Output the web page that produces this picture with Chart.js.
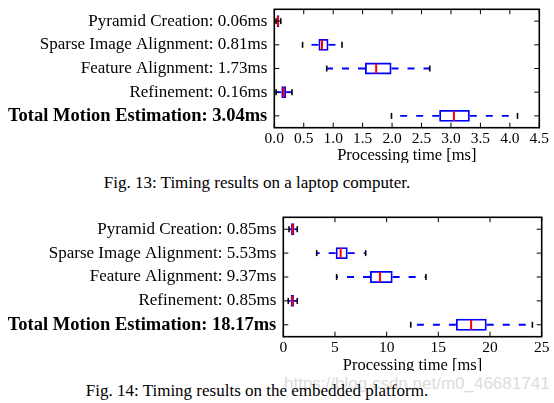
<!DOCTYPE html>
<html>
<head>
<meta charset="utf-8">
<script src="https://cdn.jsdelivr.net/npm/chart.js@4.4.0/dist/chart.umd.min.js"></script>
<style>
  html, body { margin: 0; padding: 0; background: #fff; }
  #page { position: relative; width: 554px; height: 403px; overflow: hidden; background: #fff; }
  .plot { position: absolute; left: 0; width: 554px; overflow: hidden; }
  .plot canvas { display: block; }
  .caption {
    position: absolute; left: 0; width: 514px; text-align: center;
    font-family: 'Liberation Serif', 'Times New Roman', serif; font-size: 17px; line-height: 19px;
    color: #000; white-space: nowrap;
  }
  #watermark {
    position: absolute; left: 284px; top: 374px;
    font-family: 'Liberation Sans', Arial, sans-serif; font-size: 17px; line-height: 20px;
    color: #dcdcdc; white-space: nowrap;
  }
</style>
</head>
<body>
<div id="page">
  <div class="plot" style="top:0;height:163px"><canvas id="chart-top" width="554" height="170"></canvas></div>
  <div class="caption" style="top:173px">Fig. 13: Timing results on a laptop computer.</div>
  <div class="plot" style="top:205px;height:166px"><canvas id="chart-bottom" width="554" height="175"></canvas></div>
  <div id="watermark">https://blog.csdn.net/m0_46681741</div>
  <div class="caption" style="top:381px">Fig. 14: Timing results on the embedded platform.</div>
</div>
<script>
// Fig. 13 - laptop (de cima para baixo)
const topLabels = [
  'Pyramid Creation: 0.06ms',
  'Sparse Image Alignment: 0.81ms',
  'Feature Alignment: 1.73ms',
  'Refinement: 0.16ms',
  'Total Motion Estimation: 3.04ms'
];
const topWhiskerLow  = [0.03, 0.48, 0.89, 0.03, 1.99];
const topQ1          = [0.045, 0.75, 1.54, 0.12, 2.80];
const topMedian      = [0.06, 0.81, 1.73, 0.16, 3.05];
const topQ3          = [0.085, 0.92, 1.99, 0.20, 3.32];
const topWhiskerHigh = [0.11, 1.15, 2.64, 0.30, 4.13];
const topTickLabels  = ['0.0', '0.5', '1.0', '1.5', '2.0', '2.5', '3.0', '3.5', '4.0', '4.5'];

// Fig. 14 - plataforma embarcada
const bottomLabels = [
  'Pyramid Creation: 0.85ms',
  'Sparse Image Alignment: 5.53ms',
  'Feature Alignment: 9.37ms',
  'Refinement: 0.85ms',
  'Total Motion Estimation: 18.17ms'
];
const bottomWhiskerLow  = [0.55, 3.23, 5.16, 0.48, 12.33];
const bottomQ1          = [0.75, 5.07, 8.39, 0.71, 16.70];
const bottomMedian      = [0.90, 5.55, 9.35, 0.87, 18.17];
const bottomQ3          = [1.07, 6.23, 10.58, 1.03, 19.68];
const bottomWhiskerHigh = [1.35, 7.97, 13.80, 1.35, 24.10];
const bottomTickLabels  = ['0', '5', '10', '15', '20', '25'];

const serif = "'Liberation Serif', 'Times New Roman', serif";
Chart.defaults.font.family = serif;
Chart.defaults.color = '#000';

// mediana, bigodes, caps, moldura e ticks para dentro
const boxplotExtras = {
  id: 'boxplotExtras',
  afterDatasetsDraw(chart, args, opts) {
    const { ctx, chartArea: area, scales: { x, y } } = chart;
    const meta = chart.getDatasetMeta(0);
    const line = (x1, y1, x2, y2) => {
      ctx.beginPath();
      ctx.moveTo(x1, y1);
      ctx.lineTo(x2, y2);
      ctx.stroke();
    };
    ctx.save();
    opts.median.forEach((m, i) => {
      const bar = meta.data[i];
      const yc = bar.y;
      const h = bar.height / 2;
      // bigodes tracejados
      ctx.strokeStyle = '#0000ff';
      ctx.lineWidth = 1.8;
      ctx.setLineDash([7, 9]);
      line(x.getPixelForValue(opts.q1[i]), yc, x.getPixelForValue(opts.low[i]), yc);
      line(x.getPixelForValue(opts.q3[i]), yc, x.getPixelForValue(opts.high[i]), yc);
      ctx.setLineDash([]);
      // caps
      ctx.strokeStyle = '#000';
      ctx.lineWidth = 1.6;
      const cl = x.getPixelForValue(opts.low[i]);
      const ch = x.getPixelForValue(opts.high[i]);
      line(cl, yc - h / 2, cl, yc + h / 2);
      line(ch, yc - h / 2, ch, yc + h / 2);
      // mediana
      ctx.strokeStyle = '#ff0000';
      ctx.lineWidth = 2;
      const mx = x.getPixelForValue(m);
      line(mx, yc - h + 0.9, mx, yc + h - 0.9);
    });
    // moldura
    ctx.strokeStyle = '#000';
    ctx.lineWidth = 1.6;
    ctx.strokeRect(area.left, area.top, area.width, area.height);
    // ticks internos
    ctx.lineWidth = 1;
    x.ticks.forEach((t, i) => {
      const px = x.getPixelForTick(i);
      line(px, area.bottom, px, area.bottom - 5);
      line(px, area.top, px, area.top + 5);
    });
    y.ticks.forEach((t, i) => {
      const py = y.getPixelForTick(i);
      line(area.left, py, area.left + 5, py);
      line(area.right, py, area.right - 5, py);
    });
    ctx.restore();
  }
};

function criarBoxplot(canvasId, cfg) {
  const ctx = document.getElementById(canvasId).getContext('2d');
  return new Chart(ctx, {
    type: 'bar',
    data: {
      labels: cfg.labels,
      datasets: [{
        data: cfg.q1.map((q, i) => [q, cfg.q3[i]]),
        backgroundColor: 'rgba(255,255,255,0)',
        borderColor: '#0000ff',
        borderWidth: 1.8,
        borderSkipped: false,
        categoryPercentage: 1,
        barPercentage: 0.5
      }]
    },
    options: {
      indexAxis: 'y',
      responsive: false,
      animation: false,
      layout: { padding: cfg.padding },
      plugins: {
        legend: { display: false },
        tooltip: { enabled: false },
        boxplotExtras: {
          low: cfg.low, q1: cfg.q1, median: cfg.median, q3: cfg.q3, high: cfg.high
        }
      },
      scales: {
        x: {
          type: 'linear',
          position: 'bottom',
          min: cfg.min,
          max: cfg.max,
          grid: { display: false, drawTicks: false },
          border: { display: false },
          ticks: {
            stepSize: cfg.step,
            autoSkip: false,
            maxRotation: 0,
            padding: cfg.tickPadding,
            font: { size: 15.5 },
            callback: (v, i) => cfg.tickLabels[i]
          },
          title: {
            display: true,
            text: 'Processing time [ms]',
            font: { size: 16.5 },
            padding: { top: 0, bottom: cfg.titlePadding }
          },
          afterFit: (scale) => {
            scale.height = cfg.xHeight;
            scale.paddingLeft = 0;
            scale.paddingRight = 0;
          }
        },
        y: {
          type: 'category',
          offset: true,
          grid: { display: false, drawTicks: false },
          border: { display: false },
          ticks: {
            padding: 7,
            autoSkip: false,
            font: (c) => (c.index === 4
              ? { size: 18.5, weight: 'bold', family: serif, lineHeight: 1 }
              : { size: 17, weight: 'normal', family: serif, lineHeight: 1 })
          },
          afterFit: (scale) => {
            scale.width = cfg.yWidth;
            scale.paddingTop = 0;
            scale.paddingBottom = 0;
          }
        }
      }
    },
    plugins: [boxplotExtras]
  });
}

criarBoxplot('chart-top', {
  labels: topLabels,
  low: topWhiskerLow, q1: topQ1, median: topMedian, q3: topQ3, high: topWhiskerHigh,
  min: 0, max: 4.5, step: 0.5, tickLabels: topTickLabels,
  padding: { top: 9.3, right: 14.7, bottom: 0, left: 0 },
  yWidth: 274.3, xHeight: 42.3, tickPadding: 2, titlePadding: 4
});

criarBoxplot('chart-bottom', {
  labels: bottomLabels,
  low: bottomWhiskerLow, q1: bottomQ1, median: bottomMedian, q3: bottomQ3, high: bottomWhiskerHigh,
  min: 0, max: 25, step: 5, tickLabels: bottomTickLabels,
  padding: { top: 12.3, right: 12.3, bottom: 0, left: 0 },
  yWidth: 283.3, xHeight: 43.3, tickPadding: 1.5, titlePadding: 4.3
});
</script>
</body>
</html>
